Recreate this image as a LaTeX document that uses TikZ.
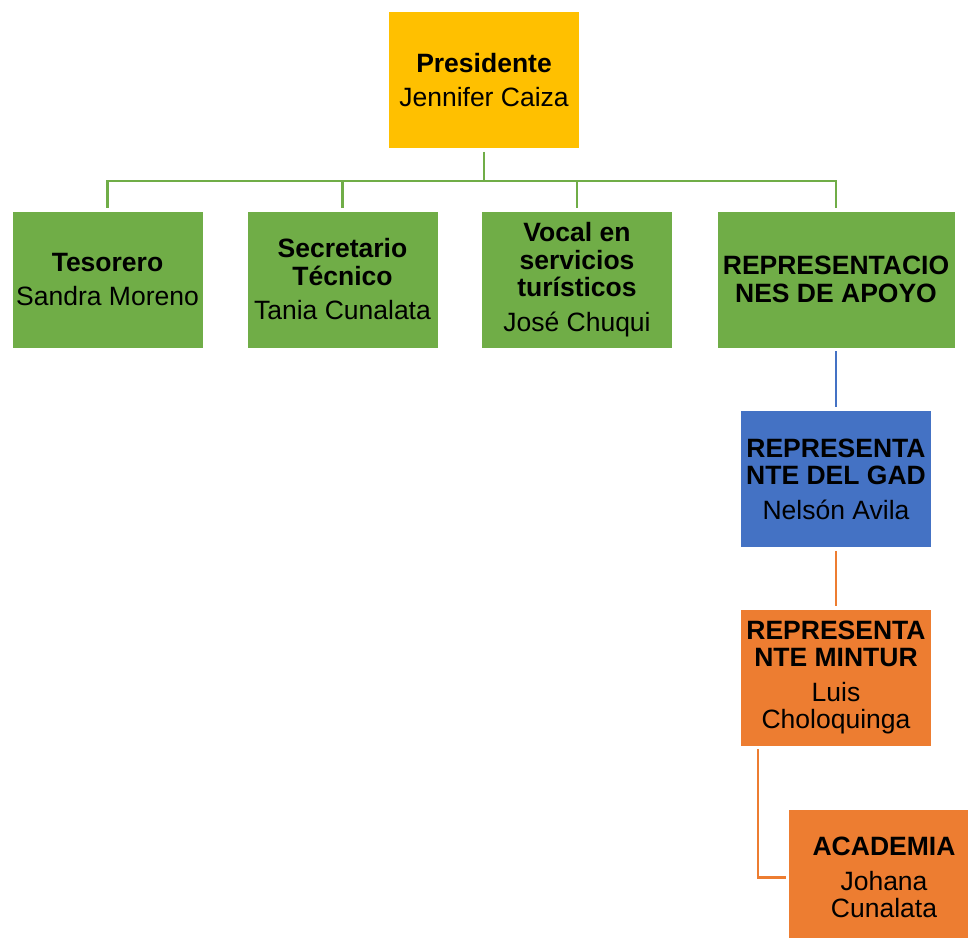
\documentclass[tikz,border=0pt]{standalone}
\usepackage{fontspec}
\setmainfont{Liberation Sans}
\definecolor{cyellow}{HTML}{FFC000}
\definecolor{cgreen}{HTML}{70AD47}
\definecolor{cblue}{HTML}{4472C4}
\definecolor{corange}{HTML}{ED7D31}
\tikzset{
  box/.style={draw=white, line width=0.8pt, minimum width=191pt, minimum height=137pt,
    inner sep=0pt, align=center, text=black,
    font=\fontsize{26.5}{27.5}\selectfont},
  conn/.style={line width=2.6pt}
}
\newcommand{\gap}{\\[7pt]}
\begin{document}
\begin{tikzpicture}[x=1pt,y=-1pt]
\useasboundingbox (0,0) rectangle (968,937);
\clip (0,0) rectangle (968,937);
\node[box, fill=cyellow] (pres) at (484,80) {\textbf{Presidente}\gap Jennifer Caiza};
\node[box, fill=cgreen] (tes) at (107.5,279.5) {\textbf{Tesorero}\gap Sandra Moreno};
\node[box, fill=cgreen] (sec) at (342.5,279.5) {\textbf{Secretario}\\\textbf{Técnico}\gap Tania Cunalata};
\node[box, fill=cgreen] (voc) at (577,279.5) {\textbf{Vocal en}\\\textbf{servicios}\\\textbf{turísticos}\gap José Chuqui};
\node[box, fill=cgreen, minimum width=238pt] (rep) at (836,279.5) {\textbf{REPRESENTACIO}\\\textbf{NES DE APOYO}};
\node[box, fill=cblue] (gad) at (836,479) {\textbf{REPRESENTA}\\\textbf{NTE DEL GAD}\gap Nelsón Avila};
\node[box, fill=corange] (min) at (836,677.5) {\textbf{REPRESENTA}\\\textbf{NTE MINTUR}\gap Luis\\Choloquinga};
\node[box, fill=corange] (aca) at (884,877.5) {\textbf{ACADEMIA}\gap Johana\\Cunalata};
\coordinate (mintap) at (758,746);
\draw[conn, cgreen, shorten <=3pt] (pres.south) -- ++(0,32) -| ([yshift=3pt]tes.north);
\draw[conn, cgreen] (pres.south) ++(0,32) -| ([yshift=3pt]sec.north);
\draw[conn, cgreen] (pres.south) ++(0,32) -| ([yshift=3pt]voc.north);
\draw[conn, cgreen] (pres.south) ++(0,32) -| ([yshift=3pt]rep.north);
\draw[conn, cblue, shorten <=3pt, shorten >=3pt] (rep.south) -- (gad.north);
\draw[conn, corange, shorten <=3pt, shorten >=3pt] (gad.south) -- (min.north);
\draw[conn, corange, shorten <=3pt, shorten >=2pt] (mintap) |- (aca.west);
\end{tikzpicture}
\end{document}
